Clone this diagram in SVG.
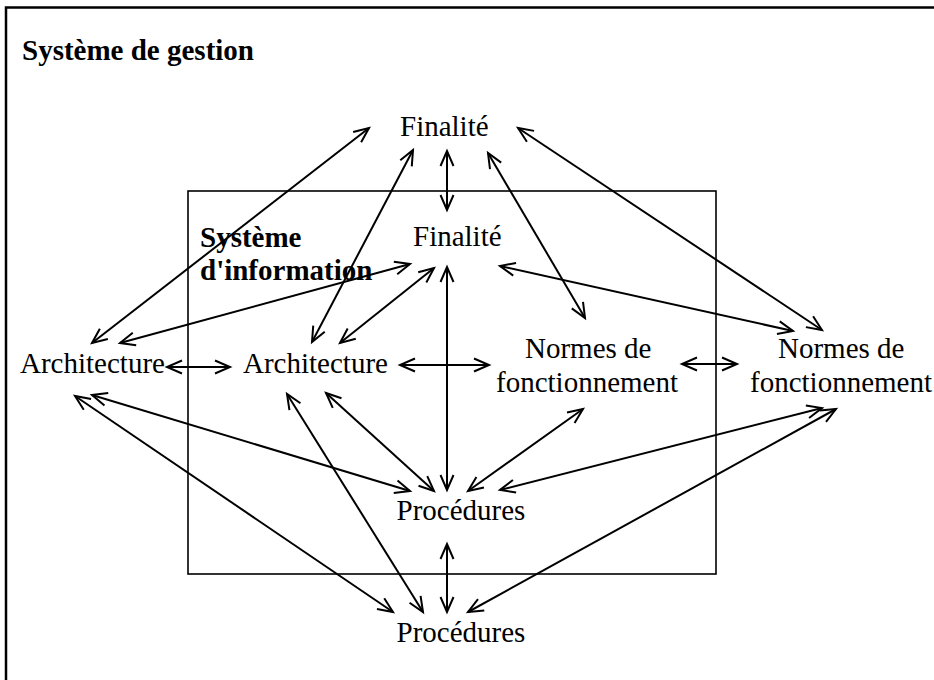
<svg xmlns="http://www.w3.org/2000/svg" width="934" height="680" viewBox="0 0 934 680">
<style>
text{font-family:"Liberation Serif","Times New Roman",serif;font-size:29px;fill:#000}
.b{font-weight:bold}
.frame{fill:none;stroke:#000}
#connectors line{stroke:#000;stroke-width:2;fill:none;marker-start:url(#ah);marker-end:url(#ah)}
</style>
<defs>
<marker id="ah" markerUnits="userSpaceOnUse" markerWidth="20" markerHeight="20" viewBox="-20 -10 20 20" refX="0" refY="0" orient="auto-start-reverse" overflow="visible">
<path d="M-15,-6.5 L0,0 L-15,6.5" fill="none" stroke="#000" stroke-width="2"/>
</marker>
</defs>
<rect width="934" height="680" fill="#fff"/>
<g id="systeme-gestion">
<rect class="frame" x="6" y="7.5" width="1000" height="1000" stroke-width="2.5"/>
<text class="b" x="22" y="60">Système de gestion</text>
</g>
<g id="systeme-information">
<rect class="frame" x="188" y="191" width="528" height="383" stroke-width="1.6"/>
<text class="b" x="200" y="247">Système</text>
<text class="b" x="200" y="280">d'information</text>
</g>
<g id="finalite-gestion"><text x="400" y="136">Finalité</text></g>
<g id="finalite-info"><text x="413" y="246">Finalité</text></g>
<g id="architecture-gestion"><text x="20" y="373">Architecture</text></g>
<g id="architecture-info"><text x="243" y="373">Architecture</text></g>
<g id="normes-info"><text x="525" y="358">Normes de</text><text x="496" y="392">fonctionnement</text></g>
<g id="normes-gestion"><text x="778" y="358">Normes de</text><text x="750" y="392">fonctionnement</text></g>
<g id="procedures-info"><text x="396.5" y="520">Procédures</text></g>
<g id="procedures-gestion"><text x="396.5" y="642">Procédures</text></g>
<g id="connectors">
<line x1="92" y1="343" x2="369" y2="128"/>
<line x1="120" y1="343" x2="410" y2="264"/>
<line x1="312" y1="342" x2="413" y2="150"/>
<line x1="340" y1="343" x2="434" y2="268"/>
<line x1="447" y1="151" x2="447" y2="210"/>
<line x1="447" y1="267" x2="447" y2="490"/>
<line x1="400" y1="365" x2="489" y2="365"/>
<line x1="167" y1="367" x2="230" y2="367"/>
<line x1="682" y1="364" x2="737" y2="364"/>
<line x1="488" y1="153" x2="585" y2="318"/>
<line x1="518" y1="128" x2="822" y2="330"/>
<line x1="500" y1="266" x2="793" y2="331"/>
<line x1="92" y1="395" x2="410" y2="491"/>
<line x1="75" y1="396" x2="393" y2="612"/>
<line x1="326" y1="393" x2="434" y2="491"/>
<line x1="287" y1="394" x2="423" y2="612"/>
<line x1="583" y1="409" x2="468" y2="491"/>
<line x1="822" y1="408" x2="500" y2="490"/>
<line x1="836" y1="409" x2="468" y2="612"/>
<line x1="447" y1="544" x2="447" y2="612"/>
</g>
</svg>
